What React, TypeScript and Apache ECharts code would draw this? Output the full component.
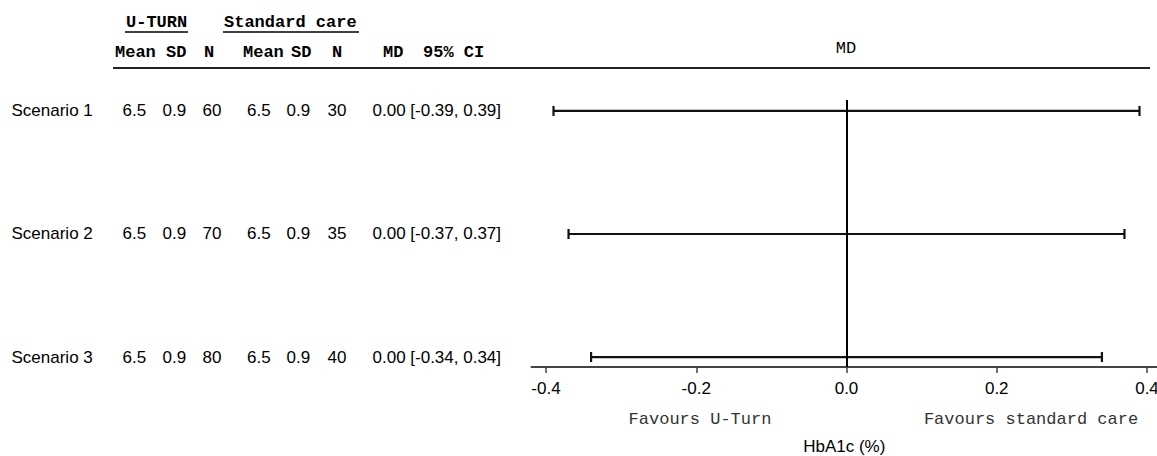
import React, { useEffect, useRef } from "react";
import * as echarts from "echarts";

const scenarios = ["Scenario 1", "Scenario 2", "Scenario 3"];
const uturnMean = [6.5, 6.5, 6.5];
const uturnSD = [0.9, 0.9, 0.9];
const uturnN = [60, 70, 80];
const stdMean = [6.5, 6.5, 6.5];
const stdSD = [0.9, 0.9, 0.9];
const stdN = [30, 35, 40];
const mdValues = [0.0, 0.0, 0.0];
const ciLow = [-0.39, -0.37, -0.34];
const ciHigh = [0.39, 0.37, 0.34];
const rowPos = [3, 2, 1];
const xTicks = [-0.4, -0.2, 0, 0.2, 0.4];
const groupHeaders = ["U-TURN", "Standard care"];
const colHeaders = ["Mean", "SD", "N", "Mean", "SD", "N", "MD", "95% CI"];
const favourLabels = ["Favours U-Turn", "Favours standard care"];

const SANS = '"Liberation Sans", Arial, sans-serif';
const MONO = '"Liberation Mono", "Courier New", monospace';

export default function App() {
  const ref = useRef<HTMLDivElement>(null);

  useEffect(() => {
    if (!ref.current) return;
    const chart = echarts.init(ref.current, null, { renderer: "svg" });

    const cell = (w: number) => ({
      width: w,
      align: "left",
      fontSize: 17,
      fontFamily: SANS,
      color: "#000",
      lineHeight: 20,
    });
    const rich: any = {
      nm: cell(111),
      m1: cell(40),
      s1: cell(40),
      n1: cell(44.5),
      m2: cell(39.5),
      s2: cell(41),
      n2: cell(45),
      ci: cell(149),
    };

    const rowLabel = (v: number) => {
      const i = rowPos.indexOf(Math.round(v));
      if (i < 0) return "";
      return (
        `{nm|${scenarios[i]}}` +
        `{m1|${uturnMean[i].toFixed(1)}}` +
        `{s1|${uturnSD[i].toFixed(1)}}` +
        `{n1|${uturnN[i]}}` +
        `{m2|${stdMean[i].toFixed(1)}}` +
        `{s2|${stdSD[i].toFixed(1)}}` +
        `{n2|${stdN[i]}}` +
        `{ci|${mdValues[i].toFixed(2)} [${ciLow[i].toFixed(2)}, ${ciHigh[i].toFixed(2)}]}`
      );
    };

    const headerFont = `bold 17px ${MONO}`;
    const hdrX = [115, 166, 204, 243, 291, 332, 383, 423];
    const graphics: any[] = [
      {
        type: "text",
        style: { text: groupHeaders[0], x: 126, y: 22, font: headerFont, fill: "#000", verticalAlign: "middle" },
      },
      {
        type: "text",
        style: { text: groupHeaders[1], x: 224, y: 22, font: headerFont, fill: "#000", verticalAlign: "middle" },
      },
      {
        type: "line",
        shape: { x1: 125, y1: 32, x2: 188, y2: 32 },
        style: { stroke: "#000", lineWidth: 1.5 },
      },
      {
        type: "line",
        shape: { x1: 223, y1: 32, x2: 359, y2: 32 },
        style: { stroke: "#000", lineWidth: 1.5 },
      },
      ...colHeaders.map((t, i) => ({
        type: "text",
        style: { text: t, x: hdrX[i], y: 52, font: headerFont, fill: "#000", verticalAlign: "middle" },
      })),
      {
        type: "line",
        shape: { x1: 113, y1: 68, x2: 1150, y2: 68 },
        style: { stroke: "#222", lineWidth: 2 },
      },
      {
        type: "text",
        style: { text: "MD", x: 846, y: 48, font: `17px ${MONO}`, fill: "#000", align: "center", verticalAlign: "middle" },
      },
      {
        type: "text",
        style: { text: favourLabels[0], x: 700, y: 419, font: `17px ${MONO}`, fill: "#333", align: "center", verticalAlign: "middle" },
      },
      {
        type: "text",
        style: { text: favourLabels[1], x: 1031, y: 419, font: `17px ${MONO}`, fill: "#333", align: "center", verticalAlign: "middle" },
      },
    ];

    chart.setOption({
      animation: false,
      grid: { left: 531.5, right: 0, top: 100, bottom: 89, outerBoundsMode: "none", containLabel: false },
      xAxis: {
        type: "value",
        min: -0.4193,
        max: 0.4133,
        axisLine: { show: true, lineStyle: { color: "#444", width: 2 } },
        axisTick: { show: true, customValues: xTicks, length: 6, lineStyle: { color: "#444", width: 1.5 } },
        axisLabel: {
          customValues: xTicks,
          formatter: (v: number) => v.toFixed(1),
          fontSize: 17,
          fontFamily: SANS,
          color: "#000",
          margin: 13,
        },
        splitLine: { show: false },
        name: "HbA1c (%)",
        nameLocation: "middle",
        nameGap: 71,
        nameTextStyle: { fontSize: 17, fontFamily: SANS, color: "#000" },
      },
      yAxis: {
        type: "value",
        min: 0.919,
        max: 3.089,
        axisLine: { show: false },
        axisTick: { show: false },
        splitLine: { show: false },
        axisLabel: {
          customValues: rowPos,
          formatter: rowLabel,
          rich,
          margin: 10,
        },
      },
      graphic: graphics,
      series: [
        {
          type: "custom",
          clip: false,
          encode: { x: [0, 1], y: 2 },
          data: scenarios.map((_, i) => [ciLow[i], ciHigh[i], rowPos[i]]),
          renderItem: (_params: any, api: any) => {
            const lo = api.coord([api.value(0), api.value(2)]);
            const hi = api.coord([api.value(1), api.value(2)]);
            const h = 5;
            const st = { stroke: "#111", lineWidth: 2.2 };
            return {
              type: "group",
              children: [
                { type: "line", shape: { x1: lo[0], y1: lo[1], x2: hi[0], y2: hi[1] }, style: st },
                { type: "line", shape: { x1: lo[0], y1: lo[1] - h, x2: lo[0], y2: lo[1] + h }, style: st },
                { type: "line", shape: { x1: hi[0], y1: hi[1] - h, x2: hi[0], y2: hi[1] + h }, style: st },
              ],
            };
          },
          markLine: {
            silent: true,
            symbol: "none",
            label: { show: false },
            lineStyle: { type: "solid", color: "#000", width: 2 },
            data: [{ xAxis: 0 }],
          },
        },
      ],
    });

    return () => chart.dispose();
  }, []);

  return (
    <div
      ref={ref}
      style={{ position: "fixed", left: 0, top: 0, width: 1157, height: 456, background: "#fff" }}
    />
  );
}
